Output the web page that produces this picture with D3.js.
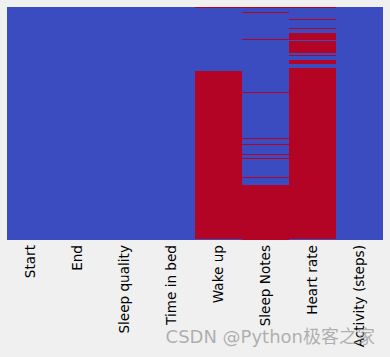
<!DOCTYPE html>
<html lang="en">
<head>
<meta charset="UTF-8">
<title>Missing values heatmap</title>
<script src="https://d3js.org/d3.v7.min.js"></script>
<style>
  body { margin: 0; background: #f0f0f0; }
  svg { display: block; font-family: "DejaVu Sans", sans-serif; }
</style>
</head>
<body>
<div id="chart"></div>
<script>
// columns of the data frame
const columns = ["Start", "End", "Sleep quality", "Time in bed", "Wake up", "Sleep Notes", "Heart rate", "Activity (steps)"];
const rowCount = 887;

// missing rows per column, as [from, to) row ranges
const missingStart = [];
const missingEnd = [];
const missingQuality = [];
const missingTimeInBed = [];
const missingWakeUp = [[0, 1], [247, 887]];
const missingNotes = [[0, 1], [20, 21], [123, 124], [324, 325], [500, 501], [522, 523], [560, 561], [576, 577], [648, 649], [678, 887]];
const missingHeart = [[0, 1], [47, 48], [81, 82], [99, 105], [109, 129], [132, 178], [184, 185], [202, 208], [213, 220], [236, 887]];
const missingActivity = [];

const missing = [missingStart, missingEnd, missingQuality, missingTimeInBed,
                 missingWakeUp, missingNotes, missingHeart, missingActivity];

const width = 390, height = 357;
const margin = {top: 7, right: 7, bottom: 117, left: 7};
const innerW = width - margin.left - margin.right;
const innerH = height - margin.top - margin.bottom;

const svg = d3.select("#chart").append("svg")
    .attr("width", width)
    .attr("height", height);

svg.append("rect")
    .attr("width", width).attr("height", height)
    .attr("fill", "#f0f0f0");

const g = svg.append("g")
    .attr("transform", `translate(${margin.left},${margin.top})`);

const x = d3.scaleBand().domain(columns).range([0, innerW]);
const y = d3.scaleLinear().domain([0, rowCount]).range([0, innerH]);

// present values (blue) as background of each column
g.selectAll("rect.col")
    .data(columns)
    .join("rect")
    .attr("class", "col")
    .attr("x", d => x(d))
    .attr("y", 0)
    .attr("width", x.bandwidth())
    .attr("height", innerH)
    .attr("fill", "#3b4cc0");

// missing values (red)
const cells = [];
missing.forEach((ranges, i) => {
  ranges.forEach(r => cells.push({col: columns[i], from: r[0], to: r[1]}));
});

g.selectAll("rect.miss")
    .data(cells)
    .join("rect")
    .attr("class", "miss")
    .attr("x", d => x(d.col))
    .attr("y", d => Math.floor(y(d.from)))
    .attr("width", x.bandwidth())
    .attr("height", d => Math.max(1, Math.round(y(d.to) - y(d.from))))
    .attr("fill", "#b40426")
    .attr("shape-rendering", "crispEdges");

// x axis, labels rotated
const xAxis = g.append("g")
    .attr("transform", `translate(0,${innerH})`)
    .call(d3.axisBottom(x).tickSize(0).tickPadding(0));
xAxis.select(".domain").remove();
xAxis.selectAll("text")
    .attr("transform", "rotate(-90)")
    .attr("x", -5)
    .attr("y", 0)
    .attr("dy", "0.35em")
    .style("text-anchor", "end")
    .style("font-size", "13.6px")
    .style("font-family", "'DejaVu Sans', sans-serif")
    .attr("fill", "#000");

// watermark
svg.append("text")
    .attr("x", 375)
    .attr("y", 343)
    .attr("text-anchor", "end")
    .style("font-size", "18px")
    .style("font-family", "'DejaVu Sans', 'Noto Sans CJK SC', sans-serif")
    .attr("fill", "#999")
    .attr("fill-opacity", 0.75)
    .text("CSDN @Python极客之家");
</script>
</body>
</html>
